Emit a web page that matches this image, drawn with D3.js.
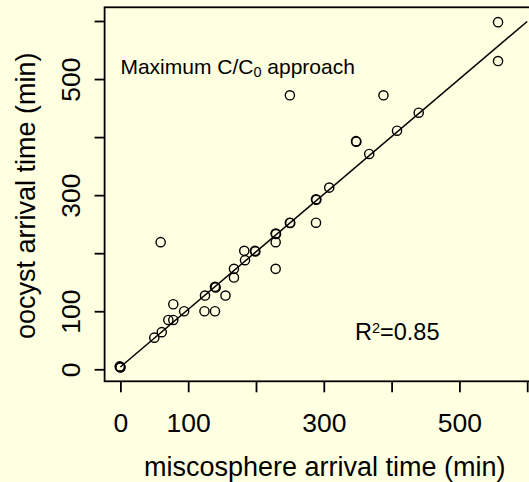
<!DOCTYPE html>
<html>
<head>
<meta charset="utf-8">
<script src="https://cdn.jsdelivr.net/npm/d3@7"></script>
<style>
  html, body { margin: 0; padding: 0; background: #FFFFE1; }
  svg { display: block; }
  text { font-family: "Liberation Sans", Arial, Helvetica, sans-serif; fill: #000; }
</style>
</head>
<body>
<div id="chart"></div>
<script>
// ---- data (minutes) ----
const microsphere = [
  -1, 0, 0,
  50, 61, 59.4, 70.7, 78, 78, 94,
  124, 124.8, 139.5, 139.5, 140.5, 155,
  167.5, 167.5, 183.8, 182.7, 198.5, 199,
  229, 229.5, 229, 229, 250, 250.5, 250,
  288.5, 289, 288.5, 308,
  347.5, 348, 367, 388, 408, 440,
  557, 557
];
const oocyst = [
  5, 4, 3,
  54.5, 64, 219, 85, 85, 112, 100,
  100, 127, 100, 142, 141, 127,
  173, 158, 188, 204, 204, 203,
  234, 233, 219, 173, 252.5, 252, 472,
  293, 292, 252.5, 313,
  393, 392, 371, 472, 411, 442,
  598, 531
];
const fitIntercept = 4;
const fitSlope = 0.992;
const fitRange = [0, 600];
const xTicks = [0, 100, 200, 300, 400, 500, 600];
const xTickLabels = ["0", "100", "", "300", "", "500", ""];
const yTicks = [0, 100, 200, 300, 400, 500, 600];
const yTickLabels = ["0", "100", "", "300", "", "500", ""];
const xTitle = "miscosphere arrival time (min)";
const yTitle = "oocyst arrival time (min)";
const xLim = [-23.3, 605.6];
const yLim = [-20.7, 623.6];

// ---- layout ----
const W = 529, H = 482;
const plot = { left: 104.6, top: 7.3, bottom: 381.3 };
const pxPerUnitX = 0.678;
plot.right = plot.left + (xLim[1] - xLim[0]) * pxPerUnitX;

const svg = d3.select("#chart").append("svg")
  .attr("width", W).attr("height", H)
  .style("background", "#FFFFE1");

const x = d3.scaleLinear().domain(xLim).range([plot.left, plot.right]);
const y = d3.scaleLinear().domain(yLim).range([plot.bottom, plot.top]);

// box
svg.append("rect")
  .attr("x", plot.left).attr("y", plot.top)
  .attr("width", plot.right - plot.left + 20).attr("height", plot.bottom - plot.top)
  .attr("fill", "none").attr("stroke", "#000").attr("stroke-width", 1.8);

// x axis
const xAxis = svg.append("g")
  .attr("transform", `translate(0,${plot.bottom})`)
  .call(d3.axisBottom(x).tickValues(xTicks).tickSize(11).tickSizeOuter(0)
    .tickFormat((d, i) => xTickLabels[i]));
xAxis.select(".domain").remove();
xAxis.selectAll(".tick line").attr("stroke", "#000").attr("stroke-width", 1.8);
xAxis.selectAll(".tick text")
  .attr("y", null).attr("dy", null)
  .attr("transform", "translate(0,50.2)")
  .attr("font-size", 26.5)
  .attr("font-family", '"Liberation Sans", Arial, sans-serif')
  .attr("fill", "#000");

// y axis
const yAxis = svg.append("g")
  .attr("transform", `translate(${plot.left},0)`)
  .call(d3.axisLeft(y).tickValues(yTicks).tickSize(10).tickSizeOuter(0)
    .tickFormat((d, i) => yTickLabels[i]));
yAxis.select(".domain").remove();
yAxis.selectAll(".tick line").attr("stroke", "#000").attr("stroke-width", 1.8);
yAxis.selectAll(".tick text")
  .attr("x", null).attr("dy", null)
  .attr("text-anchor", "middle")
  .attr("transform", "translate(-24.6,0) rotate(-90)")
  .attr("font-size", 26.5)
  .attr("font-family", '"Liberation Sans", Arial, sans-serif')
  .attr("fill", "#000");

// titles
svg.append("text")
  .attr("x", 324.7).attr("y", 476)
  .attr("text-anchor", "middle")
  .attr("font-size", 27)
  .text(xTitle);
svg.append("text")
  .attr("transform", `translate(35,${(plot.top + plot.bottom) / 2 + 1.5}) rotate(-90)`)
  .attr("text-anchor", "middle")
  .attr("font-size", 27)
  .text(yTitle);

// fit line
const fitPts = fitRange.map(v => [v, fitIntercept + fitSlope * v]);
svg.append("path")
  .attr("d", d3.line().x(d => x(d[0])).y(d => y(d[1]))(fitPts))
  .attr("fill", "none").attr("stroke", "#000").attr("stroke-width", 1.5);

// points
svg.append("g").selectAll("circle")
  .data(microsphere.map((v, i) => [v, oocyst[i]]))
  .join("circle")
  .attr("cx", d => x(d[0])).attr("cy", d => y(d[1]))
  .attr("r", 4.6)
  .attr("fill", "none").attr("stroke", "#000").attr("stroke-width", 1.4);

// annotations
const ann1 = svg.append("text")
  .attr("x", x(0)).attr("y", y(508.7))
  .attr("font-size", 21);
ann1.append("tspan").text("Maximum C/C");
ann1.append("tspan").attr("font-size", 14.5).attr("dy", 3).text("0");
ann1.append("tspan").attr("dy", -3).text(" approach");

const ann2 = svg.append("text")
  .attr("x", x(346)).attr("y", y(50.5))
  .attr("font-size", 23.5);
ann2.append("tspan").text("R");
ann2.append("tspan").attr("font-size", 14.5).attr("dy", -7).text("2");
ann2.append("tspan").attr("dy", 7).text("=0.85");
</script>
</body>
</html>
